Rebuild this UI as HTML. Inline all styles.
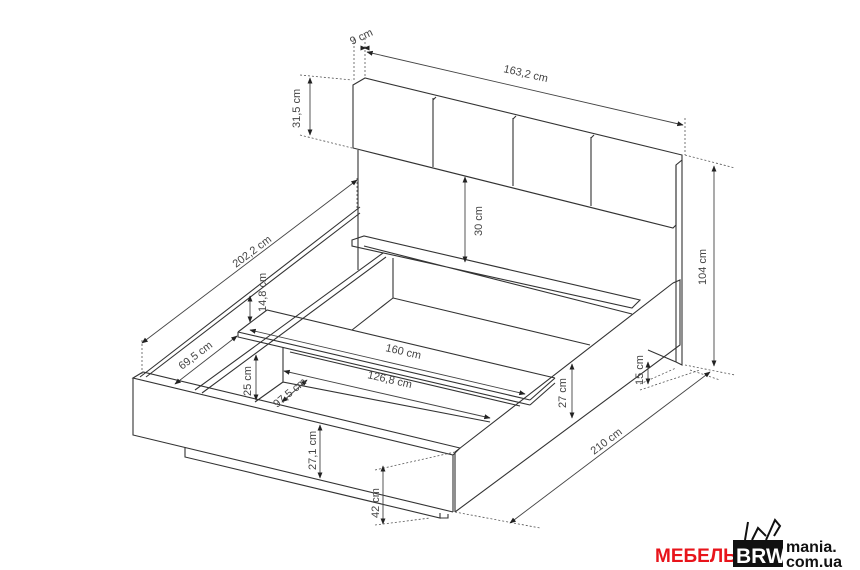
<!DOCTYPE html>
<html><head><meta charset="utf-8"><style>
html,body{margin:0;padding:0;background:#fff;width:860px;height:570px;overflow:hidden}
svg{display:block}
text{font-family:"Liberation Sans",sans-serif;font-size:11px;fill:#444}
.l{stroke:#333;stroke-width:1.1;fill:none}
.d{stroke:#555;stroke-width:0.8;fill:none;stroke-dasharray:2,2}
.a{stroke:#444;stroke-width:0.9;fill:none;marker-start:url(#ar);marker-end:url(#ar)}
</style></head><body>
<svg width="860" height="570" viewBox="0 0 860 570">
<defs><marker id="ar" viewBox="0 0 10 10" refX="9" refY="5" markerWidth="7" markerHeight="7" orient="auto-start-reverse"><path d="M0,1 L10,5 L0,9 z" fill="#222"/></marker></defs>

<!-- headboard cushion -->
<path class="l" d="M353,85 L365,78 L682,155 L682,160 L676,165 L676,225 L673,228 L353,148 Z"/>
<path class="l" d="M433,98 L433,167 M436,97 L433,100 M513,118 L513,186 M516,116 L513,119 M591,137 L591,206 M594,135 L591,138"/>
<!-- back panel & post -->
<path class="l" d="M358,150 L358,258 M676,165 L676,362 M682,160 L682,365 L676,362"/>
<!-- shelf -->
<path class="l" d="M352,240 L364,236 L640,300 L632,308 L352,246 Z M364,246 L632,314"/>
<!-- storage box inner -->
<path class="l" d="M393,258 L393,298 L590,345 M393,298 L352,330"/>
<!-- right side rail -->
<path class="l" d="M673,283 L680,280 L680,345 L455,512 M673,283 L455,452 M455,452 L455,512 M648,350 L676,362"/>
<!-- left rail -->
<path class="l" d="M140,377 L360,207 M146,377 L360,213 M358,258 L358,270 M195,390 L383,253 M202,393 L386,257"/>
<!-- footboard -->
<path class="l" d="M133,378 L143,372 L460,448 L453,455 L133,378 Z M133,378 L133,435 L453,512 M453,455 L453,512"/>
<path class="l" d="M185,447 L185,457 L440,518 L440,513 M440,518 L448,518 L448,514"/>
<!-- center board -->
<path class="l" d="M238,332 L267,310 L555,378 M238,332 L238,337 L530,405 M238,332 L530,400 M530,400 L555,378 M530,405 L555,383"/>
<path class="l" d="M283,347 L283,382 L490,422 M283,382 L255,402 M290,352 L520,406"/>
<!-- dashed extension lines -->
<path class="d" d="M354,38 L354,80 M365,38 L365,78 M685,118 L685,155 M300,75 L352,80 M300,135 L352,148 M685,155 L735,168 M685,365 L735,375 M142,340 L142,375 M357,178 L357,210 M640,384 L676,368 M640,390 L700,370 M455,512 L540,528 M690,370 L720,380 M375,470 L455,452 M375,525 L430,518"/>
<!-- dimension arrows -->
<path class="a" d="M366,48 L364,48"/>
<path class="a" d="M367,52 L683,125"/>
<path class="a" d="M310,78 L310,135"/>
<path class="a" d="M465,177 L465,262"/>
<path class="a" d="M714,166 L714,366"/>
<path class="a" d="M142,343 L357,180"/>
<path class="a" d="M250,296 L250,322"/>
<path class="a" d="M175,384 L237,336"/>
<path class="a" d="M250,330 L525,394"/>
<path class="a" d="M284,371 L490,418"/>
<path class="a" d="M282,402 L307,380"/>
<path class="a" d="M256,355 L256,400"/>
<path class="a" d="M320,425 L320,478"/>
<path class="a" d="M383,466 L383,524"/>
<path class="a" d="M572,364 L572,418"/>
<path class="a" d="M648,362 L648,384"/>
<path class="a" d="M510,523 L710,372"/>
<!-- labels -->
<text transform="translate(352,45) rotate(-25)">9 cm</text>
<text transform="translate(503,72) rotate(13)">163,2 cm</text>
<text transform="translate(300,128) rotate(-90)">31,5 cm</text>
<text transform="translate(482,236) rotate(-90)">30 cm</text>
<text transform="translate(706,285) rotate(-90)">104 cm</text>
<text transform="translate(236,268) rotate(-37)">202,2 cm</text>
<text transform="translate(266,312) rotate(-90)">14,8 cm</text>
<text transform="translate(182,370) rotate(-37)">69,5 cm</text>
<text transform="translate(385,351) rotate(13)">160 cm</text>
<text transform="translate(367,378) rotate(13)">126,8 cm</text>
<text transform="translate(277,408) rotate(-40)">97,5 cm</text>
<text transform="translate(251,396) rotate(-90)">25 cm</text>
<text transform="translate(316,470) rotate(-90)">27,1 cm</text>
<text transform="translate(379,518) rotate(-90)">42 cm</text>
<text transform="translate(566,408) rotate(-90)">27 cm</text>
<text transform="translate(643,385) rotate(-90)">15 cm</text>
<text transform="translate(594,455) rotate(-37)">210 cm</text>
<!-- logo -->
<text x="655" y="562" style="font-size:19px;font-weight:bold;fill:#e8141b;font-family:'Liberation Sans',sans-serif">МЕБЕЛЬ</text>
<rect x="733" y="540" width="50" height="27" fill="#111"/>
<text x="736" y="563" style="font-size:21px;font-weight:bold;fill:#fff">BRW</text>
<path d="M745,540 L748,522 M752,540 L758,528 L766,536 M766,540 L775,520 L780,526 L774,536" stroke="#111" stroke-width="2" fill="none"/>
<text x="786" y="552" style="font-size:16px;font-weight:bold;fill:#111">mania.</text>
<text x="786" y="567" style="font-size:16px;font-weight:bold;fill:#111">com.ua</text>
</svg>
</body></html>
